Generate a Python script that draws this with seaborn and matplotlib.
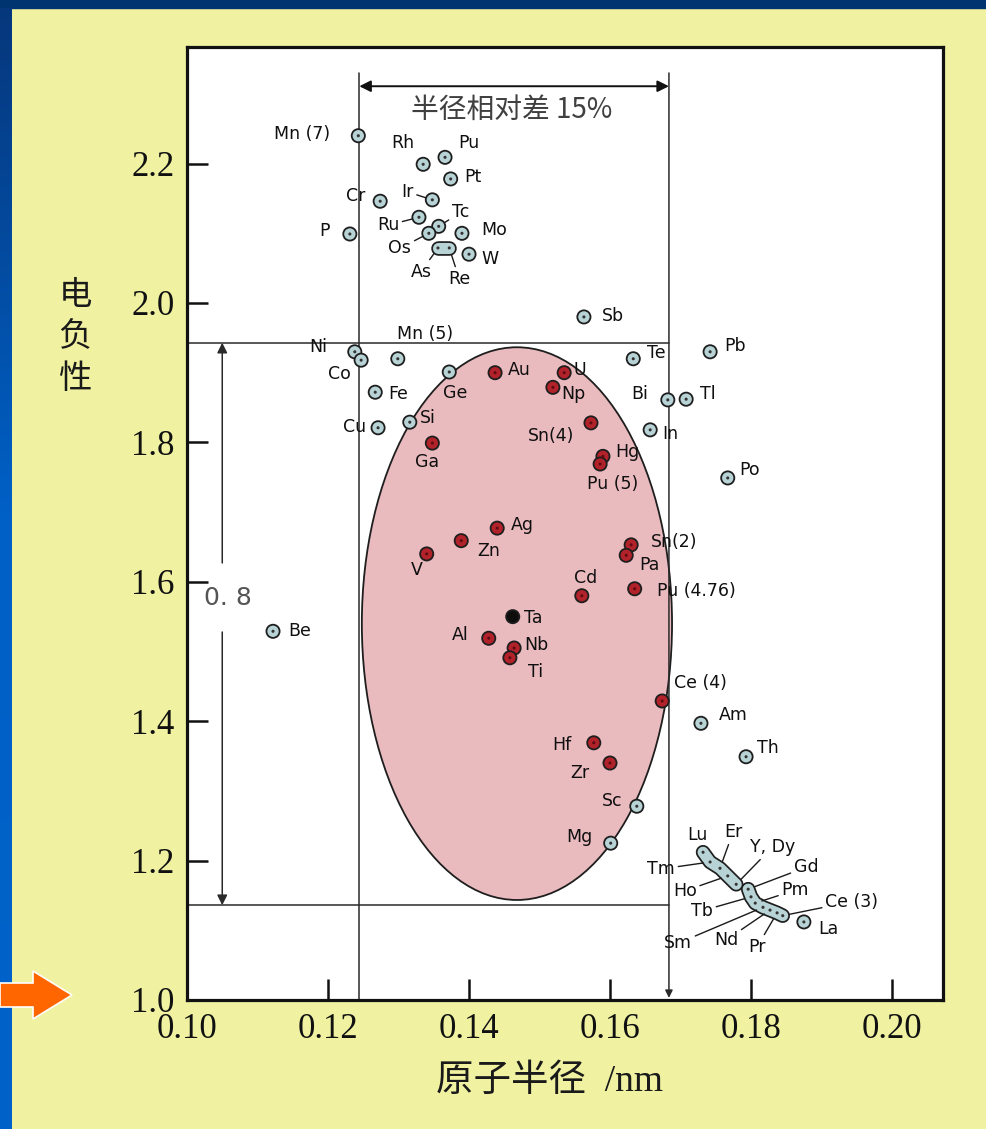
import numpy as np
import pandas as pd
import matplotlib
matplotlib.use("Agg")
import matplotlib.pyplot as plt
from matplotlib.patches import Ellipse, Polygon, Rectangle
import seaborn as sns

# ---------------------------------------------------------------- data
elements = ["Mn (7)", "Rh", "Pu", "Pt", "Cr", "Ir", "Ru", "Tc", "Os", "Mo", "As", "Re",
            "W", "P", "Sb", "Ni", "Co", "Mn (5)", "Ge", "Fe", "Cu", "Si", "Te", "Bi",
            "Tl", "In", "Pb", "Po", "Be", "Am", "Th", "Sc", "Mg", "La",
            "Lu", "Tm", "Er", "Ho", "Y, Dy", "Gd", "Tb", "Pm", "Sm", "Nd", "Pr", "Ce (3)",
            "Au", "U", "Np", "Ga", "Sn(4)", "Hg", "Pu (5)", "Ag", "Zn", "V", "Sn(2)",
            "Pa", "Pu (4.76)", "Cd", "Al", "Nb", "Ti", "Hf", "Zr", "Ce (4)", "Ta"]
radius = [0.1243, 0.1335, 0.1366, 0.1374, 0.1274, 0.1348, 0.1329, 0.1357, 0.1343, 0.1390,
          0.1356, 0.1372, 0.1400, 0.1231, 0.1563, 0.1238, 0.1247, 0.1299, 0.1372, 0.1267,
          0.1271, 0.1316, 0.1633, 0.1682, 0.1708, 0.1657, 0.1742, 0.1767, 0.1122, 0.1729,
          0.1793, 0.1638, 0.1601, 0.1875,
          0.1732, 0.1742, 0.1756, 0.1767, 0.1779, 0.1796, 0.1800, 0.1806, 0.1817, 0.1827,
          0.1837, 0.1845,
          0.1437, 0.1535, 0.1519, 0.1348, 0.1573, 0.1590, 0.1586, 0.1440, 0.1389, 0.1340,
          0.1630, 0.1623, 0.1635, 0.1560, 0.1428, 0.1464, 0.1458, 0.1577, 0.1600, 0.1674,
          0.1462]
electroneg = [2.240, 2.199, 2.209, 2.178, 2.146, 2.148, 2.123, 2.110, 2.100, 2.100,
              2.079, 2.079, 2.070, 2.099, 1.980, 1.930, 1.918, 1.920, 1.901, 1.872,
              1.821, 1.829, 1.920, 1.861, 1.862, 1.818, 1.930, 1.749, 1.529, 1.397,
              1.349, 1.278, 1.225, 1.112,
              1.212, 1.198, 1.189, 1.178, 1.166, 1.159, 1.148, 1.139, 1.133, 1.129,
              1.125, 1.121,
              1.900, 1.900, 1.879, 1.799, 1.828, 1.780, 1.769, 1.677, 1.659, 1.640,
              1.653, 1.638, 1.590, 1.580, 1.519, 1.505, 1.491, 1.369, 1.340, 1.429,
              1.550]
group = ["other"] * 46 + ["soluble"] * 20 + ["host"]

# elements drawn as merged capsules
chains = [["As", "Re"],
          ["Lu", "Tm", "Er", "Ho", "Y, Dy"],
          ["Gd", "Tb", "Pm", "Sm", "Nd", "Pr", "Ce (3)"]]

# Darken-Gurry window around Ta
host_radius = 0.1464
radius_tol = 0.15
en_low, en_high = 1.136, 1.943

x_ticks = [0.10, 0.12, 0.14, 0.16, 0.18, 0.20]
x_ticklabels = ["0.10", "0.12", "0.14", "0.16", "0.18", "0.20"]
y_ticks = [1.0, 1.2, 1.4, 1.6, 1.8, 2.0, 2.2]
y_ticklabels = ["1.0", "1.2", "1.4", "1.6", "1.8", "2.0", "2.2"]

df = pd.DataFrame({"element": elements, "radius": radius,
                   "en": electroneg, "group": group})

# label placement (pixel offsets from the marker, y up) and leader-line labels
label_offset = {
    "Mn (7)": (-56, 2), "Rh": (-20, 21), "Pu": (24, 14), "Pt": (22, 2), "Cr": (-24, 5),
    "Ir": (-25, 8), "Ru": (-31, -8), "Tc": (22, 14), "Os": (-29, -15), "Mo": (32, 3),
    "As": (-17, -24), "Re": (10, -31), "W": (21, -5), "P": (-25, 3), "Sb": (29, 1),
    "Ni": (-37, 5), "Co": (-22, -14), "Mn (5)": (27, 25), "Ge": (6, -21), "Fe": (23, -2),
    "Cu": (-23, 1), "Si": (18, 4), "Te": (23, 6), "Bi": (-28, 6), "Tl": (22, 5),
    "In": (20, -4), "Pb": (25, 6), "Po": (22, 8), "Be": (27, 0), "Am": (32, 8),
    "Th": (22, 9), "Sc": (-25, 5), "Mg": (-31, 6), "La": (25, -7),
    "Lu": (-6, 17), "Tm": (-49, -7), "Er": (13, 36), "Ho": (-43, -15), "Y, Dy": (36, 37),
    "Gd": (58, 22), "Tb": (-49, -14), "Pm": (40, 13), "Sm": (-85, -36), "Nd": (-44, -30),
    "Pr": (-20, -34), "Ce (3)": (69, 14),
    "Au": (24, 3), "U": (16, 3), "Np": (20, -7), "Ga": (-5, -19), "Sn(4)": (-40, -13),
    "Hg": (24, 4), "Pu (5)": (12, -20), "Ag": (25, 3), "Zn": (27, -10), "V": (-10, -16),
    "Sn(2)": (43, 3), "Pa": (23, -10), "Pu (4.76)": (62, -2), "Cd": (4, 18),
    "Al": (-29, 3), "Nb": (22, 3), "Ti": (26, -14), "Hf": (-32, -2), "Zr": (-30, -10),
    "Ce (4)": (38, 18), "Ta": (21, -1),
}
leader = {"Ir", "Ru", "Tc", "Os", "As", "Re", "Tm", "Er", "Ho", "Y, Dy", "Gd", "Tb",
          "Pm", "Sm", "Nd", "Pr", "Ce (3)"}

# ---------------------------------------------------------------- style
sns.set_theme(style="white")
plt.rcParams["font.family"] = ["DejaVu Sans", "Noto Sans CJK SC"]

W, H = 987, 1129
BG = "#f0f2a2"
fig = plt.figure(figsize=(W / 100, H / 100), dpi=100, facecolor=BG)

def fx(px):
    return px / W

def fy(py):
    return 1 - py / H

# slide frame: navy top band, blue left strip, orange pointer
fig.add_artist(Rectangle((0, fy(8)), 1, 8 / H, transform=fig.transFigure,
                         color="#003471", zorder=0))
strip = fig.add_axes([0, 0, fx(12), fy(8)], zorder=0)
grad = np.linspace(0, 1, 256)[:, None]
strip.imshow(grad, aspect="auto", extent=(0, 1, 0, 1),
             cmap=matplotlib.colors.LinearSegmentedColormap.from_list(
                 "strip", [(0, "#0062c9"), (0.55, "#0060c6"), (1, "#06377c")]),
             origin="lower")
strip.set_axis_off()

arrow_px = [(0, 983), (33, 983), (33, 971), (72, 995), (33, 1019), (33, 1007), (0, 1007)]
fig.add_artist(Polygon([(fx(x), fy(y)) for x, y in arrow_px], closed=True,
                       transform=fig.transFigure, facecolor="#ff6600",
                       edgecolor="white", lw=1.2, zorder=5))

# ---------------------------------------------------------------- main axes
ax = fig.add_axes([fx(187), fy(1000), fx(943 - 187), (1000 - 47) / H], zorder=2)
ax.set_facecolor("white")
ax.set_xlim(0.10, 0.10 + 756 / 7050)
ax.set_ylim(1.0, 1.0 + 953 / 697)

x_lo = host_radius * (1 - radius_tol)
x_hi = host_radius * (1 + radius_tol)
line_kw = dict(color="#2a2a2a", lw=1.1, zorder=2)

# miscibility ellipse
ax.add_patch(Ellipse((0.1468, 1.540), width=0.0440, height=0.793,
                     facecolor="#e9babe", edgecolor="#1e1e1e", lw=1.3, zorder=1))

# radius window
y_top_line = 2.330
ax.plot([x_lo, x_lo], [1.0, y_top_line], **line_kw)
ax.annotate("", xy=(x_hi, 1.003), xytext=(x_hi, y_top_line),
            arrowprops=dict(arrowstyle="-|>", color="#2a2a2a", lw=1.1,
                            mutation_scale=11, shrinkA=0, shrinkB=0), zorder=2)
ax.annotate("", xy=(x_lo, 2.311), xytext=(x_hi, 2.311),
            arrowprops=dict(arrowstyle="<|-|>", color="#111111", lw=1.4,
                            mutation_scale=17, shrinkA=0, shrinkB=0), zorder=2)
ax.text(0.1461, 2.277, "半径相对差 15%", ha="center", va="center", fontsize=20,
        color="#404040", family=["Noto Sans CJK SC", "DejaVu Sans"])

# electronegativity window
ax.plot([0.10, x_hi], [en_high, en_high], **line_kw)
ax.plot([0.10, x_hi], [en_low, en_low], **line_kw)
x_arrow = 0.1050
ax.annotate("", xy=(x_arrow, en_high), xytext=(x_arrow, 1.627),
            arrowprops=dict(arrowstyle="-|>", color="#2a2a2a", lw=1.1,
                            mutation_scale=15, shrinkA=0, shrinkB=0))
ax.annotate("", xy=(x_arrow, en_low), xytext=(x_arrow, 1.528),
            arrowprops=dict(arrowstyle="-|>", color="#2a2a2a", lw=1.1,
                            mutation_scale=15, shrinkA=0, shrinkB=0))
ax.text(0.1058, 1.577, "0. 8", ha="center", va="center", fontsize=18, color="#555555")

# capsules for overlapping elements
pos = df.set_index("element")
fill_other = "#b8d3d5"
for chain in chains:
    cx = pos.loc[chain, "radius"].values
    cy = pos.loc[chain, "en"].values
    ax.plot(cx, cy, color="#1e1e1e", lw=10.5, solid_capstyle="round",
            solid_joinstyle="round", zorder=3)
    ax.plot(cx, cy, color=fill_other, lw=8.0, solid_capstyle="round",
            solid_joinstyle="round", zorder=3.1)

in_chain = df["element"].isin(sum(chains, []))
free = df[~in_chain]

sns.scatterplot(data=free, x="radius", y="en", hue="group",
                palette={"other": fill_other, "soluble": "#b2222a", "host": "#0d0d0d"},
                s=90, edgecolor="#1e1e1e", linewidth=1.3, legend=False, ax=ax, zorder=4)

# centre dots of the circle markers
dots = df[df["group"] != "host"]
sns.scatterplot(data=dots, x="radius", y="en", hue="group",
                palette={"other": "#333333", "soluble": "#5e0c10"},
                s=5, linewidth=0, legend=False, ax=ax, zorder=5)

# element labels
for name, xr, ye in zip(df["element"], df["radius"], df["en"]):
    dx, dy = label_offset[name]
    kw = {}
    if name in leader:
        kw["arrowprops"] = dict(arrowstyle="-", color="#1a1a1a", lw=1.0,
                                shrinkA=0, shrinkB=5)
    ax.annotate(name, xy=(xr, ye), xytext=(dx, dy), textcoords="offset pixels",
                ha="center", va="center", fontsize=12.5, color="#0f0f0f", zorder=6, **kw)

# axes, ticks
ax.set_xticks(x_ticks)
ax.set_xticklabels(x_ticklabels)
ax.set_yticks(y_ticks)
ax.set_yticklabels(y_ticklabels)
ax.tick_params(direction="in", length=15, width=1.8, labelsize=25, pad=9,
               colors="#111111", bottom=True, left=True, top=False, right=False)
for lab in ax.get_xticklabels() + ax.get_yticklabels():
    lab.set_family("Liberation Serif")
for side in ["left", "bottom", "top", "right"]:
    ax.spines[side].set_visible(True)
    ax.spines[side].set_color("#111111")
    ax.spines[side].set_linewidth(2.3)
ax.set_xlabel("")
ax.set_ylabel("")

fig.text(fx(75), fy(337), "电\n负\n性", ha="center", va="center", fontsize=24,
         linespacing=1.25, color="#1a1a1a", family=["Noto Sans CJK SC", "DejaVu Sans"])
fig.text(fx(550), fy(1082), "原子半径  /nm", ha="center", va="center", fontsize=27,
         color="#1a1a1a", family=["Liberation Serif", "Noto Sans CJK SC"])

fig.savefig("out.png", dpi=100, facecolor=BG)
